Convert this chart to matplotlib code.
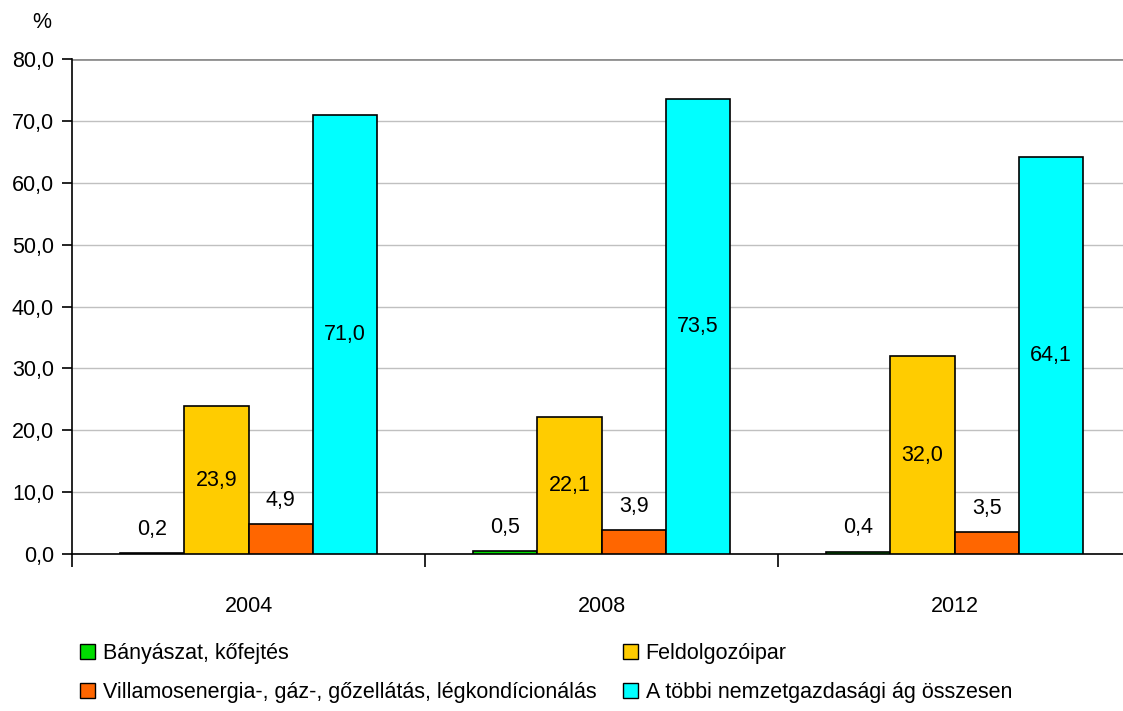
import numpy as np
import matplotlib.pyplot as plt
from matplotlib.patches import Patch

plt.rcParams['font.family'] = ['Liberation Sans', 'DejaVu Sans']

# Data
years = ['2004', '2008', '2012']
series_names = ['Bányászat, kőfejtés',
                'Feldolgozóipar',
                'Villamosenergia-, gáz-, gőzellátás, légkondícionálás',
                'A többi nemzetgazdasági ág összesen']
mining = [0.2, 0.5, 0.4]
manufacturing = [23.9, 22.1, 32.0]
energy = [4.9, 3.9, 3.5]
other = [71.0, 73.5, 64.1]
colors_list = ['#00DD00', '#FFCC00', '#FF6600', '#00FFFF']
yticks = np.arange(0, 81, 10)

series = [mining, manufacturing, energy, other]
label_inside = [False, True, False, True]
fs = 15.5

fig = plt.figure(figsize=(11.23, 7.11), dpi=100)
ax = fig.add_axes([72 / 1123, 157 / 711, 1059 / 1123, 495 / 711])

x = np.arange(len(years))
w = 0.182
for i, vals in enumerate(series):
    pos = x + (i - 1.5) * w
    ax.bar(pos, vals, width=w, color=colors_list[i], edgecolor='black',
           linewidth=1.2, zorder=3)
    for px, v in zip(pos, vals):
        txt = f'{v:.1f}'.replace('.', ',')
        if label_inside[i]:
            ax.text(px, v / 2, txt, ha='center', va='center', fontsize=fs, zorder=4)
        else:
            ax.annotate(txt, (px, v), xytext=(0, 17), textcoords='offset points',
                        ha='center', va='center', fontsize=fs, zorder=4)

ax.set_ylim(0, 80)
ax.set_xlim(-0.5, 2.5)
ax.set_yticks(yticks)
ax.set_yticklabels([f'{t:.1f}'.replace('.', ',') for t in yticks], fontsize=fs)
ax.yaxis.grid(True, color='#c0c0c0', linewidth=1, zorder=0)
ax.axhline(80, color='#909090', linewidth=2, zorder=1)
ax.set_axisbelow(True)

ax.set_xticks([-0.5, 0.5, 1.5, 2.5])
ax.set_xticklabels([])
ax.set_xticks(x, minor=True)
ax.set_xticklabels(years, minor=True, fontsize=fs)
ax.tick_params(axis='x', which='minor', length=0, pad=30)
ax.tick_params(axis='x', which='major', length=9, width=1.2, direction='out')
ax.tick_params(axis='y', length=7, width=1.2, direction='out', pad=6)

for s in ['top', 'right']:
    ax.spines[s].set_visible(False)
ax.spines['left'].set_linewidth(1.2)
ax.spines['bottom'].set_linewidth(1.2)

fig.text(42 / 1123, 1 - 22 / 711, '%', fontsize=fs, ha='center', va='center')

handles = [Patch(facecolor=c, edgecolor='black', linewidth=1) for c in colors_list]
order = [0, 2, 1, 3]
fig.legend([handles[k] for k in order], [series_names[k] for k in order],
           ncol=2, loc='upper left', bbox_to_anchor=(80 / 1123, 1 - 643 / 711),
           frameon=False, fontsize=fs, handlelength=0.7, handleheight=0.7,
           handletextpad=0.35, columnspacing=1.25, labelspacing=0.85,
           borderaxespad=0, borderpad=0)

fig.savefig('out.png', dpi=100)
